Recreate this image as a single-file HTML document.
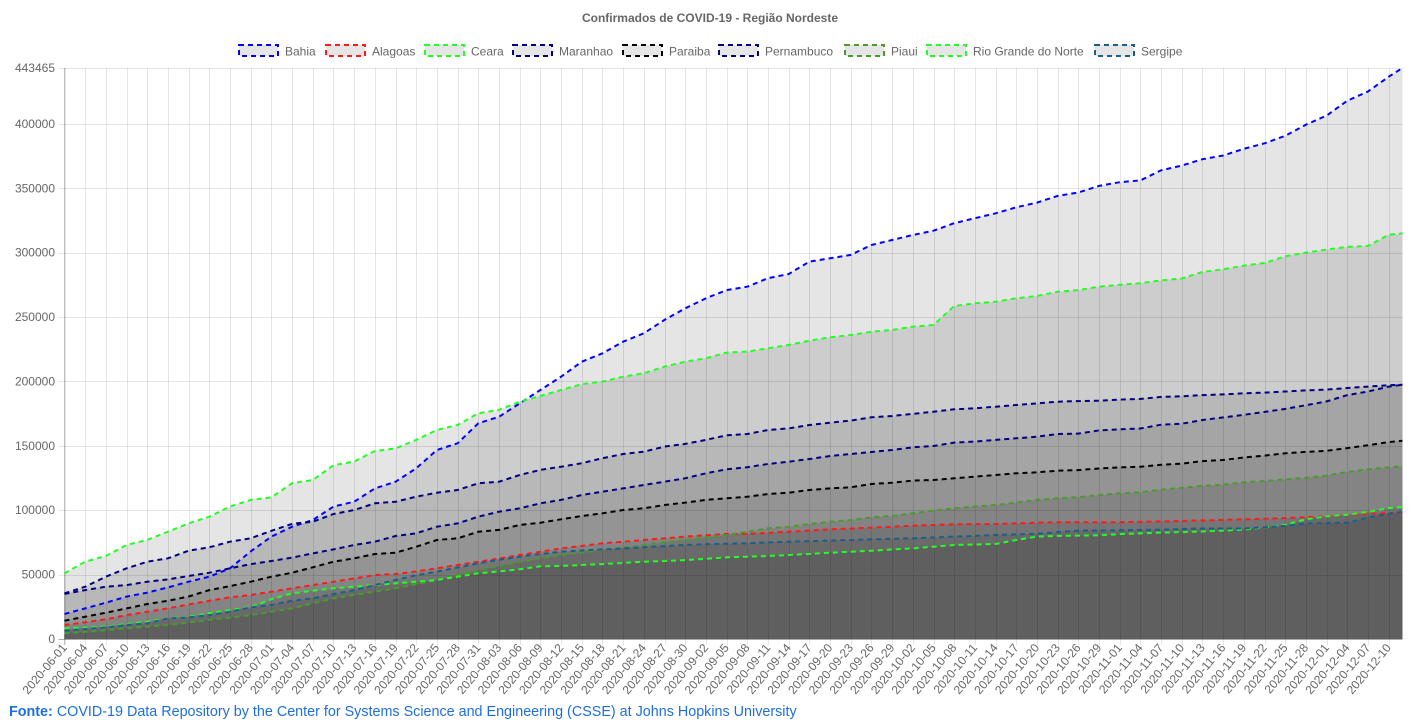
<!DOCTYPE html>
<html><head><meta charset="utf-8"><style>
html,body{margin:0;padding:0;background:#fff;width:1421px;height:728px;overflow:hidden;font-family:"Liberation Sans",Arial,sans-serif}
#foot{position:absolute;left:9px;top:704px;font-size:14.35px;color:#1e6fd9}
#foot b{font-weight:bold}
</style></head><body>
<svg id="chart" width="1421" height="700" style="position:absolute;left:0;top:0" xmlns="http://www.w3.org/2000/svg"></svg>
<div id="foot"><b>Fonte:</b> COVID-19 Data Repository by the Center for Systems Science and Engineering (CSSE) at Johns Hopkins University</div>
<script>
const dayOffsets=[0,3,6,9,12,15,18,21,24,27,30,33,36,39,42,45,48,51,54,57,60,63,66,69,72,75,78,81,84,87,90,93,96,99,102,105,108,111,114,117,120,123,126,129,132,135,138,141,144,147,150,153,156,159,162,165,168,171,174,177,180,183,186,189,192,194];
const bahia=[19400,23800,28200,32900,36000,40100,44500,48400,54900,68000,79500,87200,92400,102800,106600,117000,122200,132600,146800,152000,167500,172600,183000,193400,203700,215400,221900,230900,237400,247800,256800,264600,271000,273600,280200,283500,293100,295700,298300,306000,309900,313800,317100,322900,326800,330600,335300,338900,344100,346800,351900,354800,356200,364000,367700,372600,375500,380700,385000,390800,399400,406500,418100,425200,436700,443465];
const alagoas=[10900,13000,15300,18600,21200,23800,26900,29700,32400,34200,36700,39400,41900,44500,47100,49700,50500,52500,54900,57500,60000,62500,65200,67800,70400,72300,74300,75600,76900,78200,79500,80500,81600,81600,82400,83300,84200,85200,85800,86500,87200,88000,88500,89100,89200,89300,89800,90300,90700,90600,90600,90700,91000,91300,91700,92100,92500,93000,93400,93900,94600,95300,96300,97300,97800,98200];
const ceara=[51000,60000,64500,73000,77000,83300,89800,95000,102800,108000,110000,121000,123500,135000,137800,146000,148000,154600,162300,166200,175300,177900,184300,188700,193400,198000,199900,203700,206400,211500,215400,218000,222400,223200,225800,228400,231700,234300,236100,238700,240000,242600,243900,258600,260700,262000,264600,266400,269700,271000,273600,275100,276300,278500,280000,285100,287100,290000,292000,297200,300100,302400,304500,305300,313900,315100];
const maranhao=[35000,38000,40600,41900,44500,46300,48900,51500,54900,58200,60600,63200,66500,69600,73000,75600,80000,82100,87200,89800,95000,98900,101500,105400,108000,111800,114400,117000,119600,122200,124800,128700,131800,133400,135900,137700,139800,142100,143700,145200,146800,148900,149900,152500,153300,154600,155900,157100,159200,159500,162000,162900,163500,166400,167200,170100,172100,174100,176400,178700,181600,184500,189400,192200,196000,197400];
const paraiba=[14200,17300,20400,23800,27200,29700,33000,38000,41100,44500,48400,51500,55700,60000,62700,66000,67000,71700,76900,78200,83300,84700,88500,90300,93000,95500,97600,100200,101500,104100,105900,108000,109300,110500,112600,113600,115700,117000,117800,120400,121400,123000,123500,124800,126100,127400,128700,129500,130700,131200,132400,133300,133800,135300,136200,138200,139000,141000,142400,144200,145300,146200,148300,150500,152900,154000];
const pernambuco=[35500,40600,48400,54900,60000,62700,68600,71200,75600,78200,84000,89500,91100,97100,100200,105400,106600,110500,113600,115700,120900,122200,127400,131300,133800,136500,140400,143700,145500,149400,151500,154600,158200,159200,162300,163600,166200,168000,169600,172200,173200,174800,176500,178400,179200,180400,181700,183000,184300,184800,185100,185900,186500,188000,188500,189400,190000,190800,191400,192200,193100,193700,194900,196000,197100,197400];
const piaui=[4400,5500,6800,8300,9600,10900,12800,14800,16700,18600,21200,23800,27700,31600,34200,36700,39400,42600,45800,49700,53600,56800,60000,62600,65200,67200,69100,71000,73000,75000,76900,78900,80800,83300,86000,87200,89300,91100,92400,94500,95500,97600,99700,101500,102800,104100,105900,108000,109300,110100,111700,113200,114000,116000,117400,118900,119800,121800,122600,124000,125200,126900,129800,131800,133300,134100];
const rn=[8300,8800,9600,11600,13400,16000,17300,20000,22500,24600,31000,35500,37500,39400,40600,41900,43200,44500,45800,48400,51000,52500,54100,56500,56700,57500,58200,59100,60000,60600,61300,62300,63400,63900,64500,65200,66100,67000,67800,68600,69500,70400,71700,73000,73400,73800,76900,79500,80100,80300,80500,81500,82000,82600,83000,83500,84200,85000,86700,88700,93000,95300,96500,98700,101700,102500];
const sergipe=[6500,7800,9000,10900,12200,16000,16800,18600,21200,24600,26400,29700,31600,34900,38000,41900,46000,49500,52300,55500,58800,61500,63900,66000,67800,68700,69600,70400,71200,72100,73000,73600,74000,74300,75000,75600,76000,76400,76900,77400,77800,78200,78800,79500,80100,80800,81200,81600,83000,84200,84300,84400,84700,85000,85400,85800,85800,85800,86800,87800,89600,90100,90300,94400,97300,98700];
const seriesNames=["Bahia","Alagoas","Ceara","Maranhao","Paraiba","Pernambuco","Piaui","Rio Grande do Norte","Sergipe"];
const seriesColors=["#0000ff","#ff1a1a","#22ff22","#000080","#000000","#000080","#4a9a2e","#22ff22","#1a5f8a"];
const seriesData=[bahia,alagoas,ceara,maranhao,paraiba,pernambuco,piaui,rn,sergipe];
const yTicks=[0,50000,100000,150000,200000,250000,300000,350000,400000];
const yMax=443465;
const totalDays=194;

const NS="http://www.w3.org/2000/svg";
const svg=document.getElementById('chart');
const L=64.5,R=1402.5,T=68,B=639;
const xS=d=>L+(R-L)*d/totalDays;
const yS=v=>B-(B-T)*v/yMax;
function mk(tag,attrs,parent){const e=document.createElementNS(NS,tag);for(const k in attrs)e.setAttribute(k,attrs[k]);(parent||svg).appendChild(e);return e;}
function dateLabel(d){const t=new Date(Date.UTC(2020,5,1)+d*86400000);return t.toISOString().slice(0,10);}

const title=mk('text',{x:710,y:22,'text-anchor':'middle','font-size':12,'font-weight':'bold',fill:'#666'});


title.textContent='Confirmados de COVID-19 - Região Nordeste';

const fills=mk('g',{});


seriesData.forEach((s,i)=>{
  let d='M'+xS(dayOffsets[0])+','+yS(0);
  s.forEach((v,j)=>{d+=' L'+xS(dayOffsets[j]).toFixed(1)+','+yS(v).toFixed(1);});
  d+=' L'+xS(dayOffsets[dayOffsets.length-1])+','+yS(0)+' Z';
  const p=mk('path',{d:d,fill:'rgba(0,0,0,0.1)'},fills);
  
  
});

const grid=mk('g',{});


for(let d=0;d<=totalDays;d+=3){const x=Math.round(xS(d))+0.5;mk('line',{x1:x,x2:x,y1:T,y2:B+6,stroke:'rgba(0,0,0,0.1)','stroke-width':1},grid);}
[...yTicks,yMax].forEach(v=>{const y=Math.round(yS(v))+0.5;mk('line',{x1:L-6,x2:R,y1:y,y2:y,stroke:'rgba(0,0,0,0.1)','stroke-width':1},grid);});
mk('line',{x1:64.5,x2:64.5,y1:T,y2:B+6,stroke:'rgba(0,0,0,0.25)','stroke-width':1},grid);
mk('line',{x1:L-6,x2:R,y1:B+0.5,y2:B+0.5,stroke:'rgba(0,0,0,0.25)','stroke-width':1},grid);

[...yTicks,yMax].forEach(v=>{
  const t=mk('text',{x:55,y:yS(v)+4,'text-anchor':'end','font-size':12,fill:'#666'});
  
  
  t.textContent=String(v);
});
for(let d=0;d<=totalDays-2;d+=3){
  const x=xS(d)+3,y=648;
  const t=mk('text',{x:x,y:y,'text-anchor':'end','font-size':12,fill:'#666',transform:'rotate(-50 '+x+' '+y+')'});
  
  
  t.textContent=dateLabel(d);
}

seriesData.forEach((s,i)=>{
  const pts=s.map((v,j)=>xS(dayOffsets[j]).toFixed(1)+','+yS(v).toFixed(1)).join(' ');
  const pl=mk('polyline',{points:pts,fill:'none',stroke:seriesColors[i],'stroke-width':2,'stroke-dasharray':'5,4'});
  
  
});

const legX=[238,325,424,512,622,718,844,926,1094];
seriesNames.forEach((n,i)=>{
  const g=mk('g',{});
  
  
  mk('rect',{x:legX[i]+1,y:45,width:39,height:11,fill:'#e6e6e6',stroke:seriesColors[i],'stroke-width':2,'stroke-dasharray':'5,4'},g);
  const t=mk('text',{x:legX[i]+47,y:55.5,'font-size':12,fill:'#666'},g);
  t.textContent=n;
});
</script>
</body></html>
